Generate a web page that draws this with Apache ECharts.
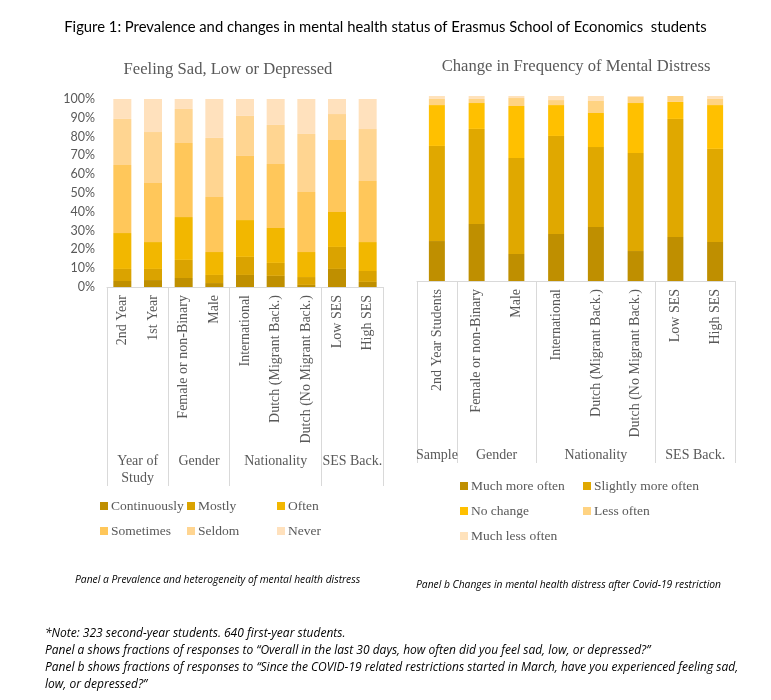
<!DOCTYPE html>
<html>
<head>
<meta charset="utf-8">
<script src="https://cdn.jsdelivr.net/npm/echarts@6/dist/echarts.min.js"></script>
<style>
html,body{margin:0;padding:0;background:#fff;}
#chart{width:771px;height:700px;}
</style>
</head>
<body>
<div id="chart"></div>
<script>
// ---------- Panel a data ----------
const catsA = ['2nd Year','1st Year','Female or non-Binary','Male','International','Dutch (Migrant Back.)','Dutch (No Migrant Back.)','Low SES','High SES'];
const groupNamesA = ['Year of\nStudy','Gender','Nationality','SES Back.'];
const groupSizesA = [2,2,3,2];
const continuously = [3.2,3.7,4.8,2.1,6.4,5.9,1.1,9.6,2.7];
const mostly       = [6.4,5.9,9.6,4.3,9.6,6.9,4.2,11.7,5.8];
const often        = [19.1,14.3,22.8,12.2,19.6,18.6,13.3,18.6,15.4];
const sometimes    = [36.2,31.4,39.4,29.3,34.1,34.0,31.9,38.3,32.5];
const seldom       = [24.5,27.1,18.1,31.4,21.3,20.8,30.9,13.8,27.6];
const never        = [10.6,17.6,5.3,20.7,9.0,13.8,18.6,8.0,16.0];
const yTicksA = [0,10,20,30,40,50,60,70,80,90,100];

// ---------- Panel b data ----------
const catsB = ['2nd Year Students','Female or non-Binary','Male','International','Dutch (Migrant Back.)','Dutch (No Migrant Back.)','Low SES','High SES'];
const groupNamesB = ['Sample','Gender','Nationality','SES Back.'];
const groupSizesB = [1,2,3,2];
const muchMore  = [21.6,30.8,14.6,25.4,29.2,16.2,23.8,21.1];
const slightly  = [51.4,51.4,51.9,53.0,43.2,53.0,63.8,50.3];
const noChange  = [22.1,14.0,28.1,16.7,18.4,27.0,9.2,23.7];
const lessOften = [3.3,2.2,4.3,2.7,6.5,3.3,3.2,3.3];
const muchLess  = [1.6,1.6,1.1,2.2,2.7,0.5,0.0,1.6];

// ---------- text ----------
const mainTitle = 'Figure 1: Prevalence and changes in mental health status of Erasmus School of Economics  students';
const titleA = 'Feeling Sad, Low or Depressed';
const titleB = 'Change in Frequency of Mental Distress';
const captionA = 'Panel a Prevalence and heterogeneity of mental health distress';
const captionB = 'Panel b Changes in mental health distress after Covid-19 restriction';
const noteLines = [
  '*Note: 323 second-year students. 640 first-year students.',
  'Panel a shows fractions of responses to \u201COverall in the last 30 days, how often did you feel sad, low, or depressed?\u201D',
  'Panel b shows fractions of responses to \u201CSince the COVID-19 related restrictions started in March, have you experienced feeling sad,',
  'low, or depressed?\u201D'
];

const colorsA = ['#BF8F00','#DAA300','#F2B700','#FFC75A','#FFD591','#FFE1BD'];
const colorsB = ['#BF8F00','#E0A800','#FFC000','#FFD382','#FFE2BB'];

function groupInfo(sizes){
  const bounds=[0], centers=[];
  let acc=0;
  sizes.forEach(s=>{ centers.push(acc+s/2); acc+=s; bounds.push(acc); });
  return {bounds, centers};
}
const gA = groupInfo(groupSizesA);
const gB = groupInfo(groupSizesB);

const serif = 'Liberation Serif';
const sans = 'Lato';
const italicSans = 'Open Sans';
const gray = '#595959';
const lineGray = '#d9d9d9';

function catAxis(gridIndex, data){
  return {
    type:'category', gridIndex, data, position:'bottom',
    axisLine:{show:true,lineStyle:{color:lineGray,width:1}},
    axisTick:{show:false},
    axisLabel:{rotate:90, margin:8, interval:0, fontFamily:serif, fontSize:14, color:gray}
  };
}
function groupAxis(gridIndex, n, g, names, tickLen, margin){
  return {
    type:'value', gridIndex, min:0, max:n, position:'bottom',
    axisLine:{show:false}, splitLine:{show:false},
    axisTick:{show:true, customValues:g.bounds, length:tickLen, lineStyle:{color:lineGray,width:1}},
    axisLabel:{show:true, customValues:g.centers, margin, fontFamily:serif, fontSize:14, color:gray, lineHeight:17, verticalAlign:'top',
      formatter:(v)=>{ const i=g.centers.findIndex(c=>Math.abs(c-v)<1e-6); return i>=0?names[i]:''; }}
  };
}

const seriesNamesA = ['Continuously','Mostly','Often','Sometimes','Seldom','Never'];
const seriesDataA = [continuously,mostly,often,sometimes,seldom,never];
const seriesNamesB = ['Much more often','Slightly more often','No change','Less often','Much less often'];
const seriesDataB = [muchMore,slightly,noChange,lessOften,muchLess];

const series = [];
seriesNamesA.forEach((n,i)=>series.push({
  name:n, type:'bar', stack:'a', xAxisIndex:0, yAxisIndex:0, barWidth:18,
  itemStyle:{color:colorsA[i]}, data:seriesDataA[i], animation:false
}));
seriesNamesB.forEach((n,i)=>series.push({
  name:n, type:'bar', stack:'b', xAxisIndex:2, yAxisIndex:1, barWidth:16,
  itemStyle:{color:colorsB[i]}, data:seriesDataB[i], animation:false
}));

// legend layout: each item is its own legend so the columns line up as in the reference
const legendColsA = [100, 187, 277], legendRowsA = [499, 524];
const legendColsB = [460, 583], legendRowsB = [479, 504, 529];
function legendItem(name, left, top){
  return {
    data:[name], left, top, orient:'horizontal', icon:'rect', itemWidth:8, itemHeight:8,
    selectedMode:false, padding:0,
    textStyle:{fontFamily:serif, fontSize:13.5, color:gray, padding:[0,0,0,-2]}
  };
}
const legends = [];
seriesNamesA.forEach((n,i)=>legends.push(legendItem(n, legendColsA[i%3], legendRowsA[Math.floor(i/3)])));
seriesNamesB.forEach((n,i)=>legends.push(legendItem(n, legendColsB[i%2], legendRowsB[Math.floor(i/2)])));

const option = {
  backgroundColor:'#fff',
  animation:false,
  title:[
    {text:mainTitle, left:'center', top:20, padding:0, textStyle:{fontFamily:sans, fontSize:14.8, fontWeight:'normal', color:'#000'}},
    {text:titleA, left:228, textAlign:'center', top:61, padding:0, textStyle:{fontFamily:serif, fontSize:16.6, fontWeight:'normal', color:gray}},
    {text:titleB, left:576, textAlign:'center', top:58, padding:0, textStyle:{fontFamily:serif, fontSize:16.6, fontWeight:'normal', color:gray}},
    {text:captionA, left:75, top:575, padding:0, textStyle:{fontFamily:italicSans, fontStyle:'italic', fontSize:10.3, fontWeight:'normal', color:'#000'}},
    {text:captionB, left:416, top:580, padding:0, textStyle:{fontFamily:italicSans, fontStyle:'italic', fontSize:10.3, fontWeight:'normal', color:'#000'}},
    {text:noteLines.join('\n'), left:45, top:625, padding:0, textStyle:{fontFamily:italicSans, fontStyle:'italic', fontSize:12, lineHeight:17, fontWeight:'normal', color:'#000'}}
  ],
  legend:legends,
  grid:[
    {left:107, top:99, width:276, height:188},
    {left:417, top:96, width:318, height:185}
  ],
  xAxis:[
    catAxis(0, catsA),
    groupAxis(0, catsA.length, gA, groupNamesA, 199, 166),
    catAxis(1, catsB),
    groupAxis(1, catsB.length, gB, groupNamesB, 182, 166)
  ],
  yAxis:[
    {type:'value', gridIndex:0, min:yTicksA[0], max:yTicksA[yTicksA.length-1], interval:yTicksA[1]-yTicksA[0],
     axisLine:{show:false}, axisTick:{show:false}, splitLine:{show:false},
     axisLabel:{formatter:'{value}%', fontFamily:sans, fontSize:12.5, color:gray, margin:12}},
    {type:'value', gridIndex:1, min:0, max:100, show:false, splitLine:{show:false}}
  ],
  series
};

const chart = echarts.init(document.getElementById('chart'), null, {renderer:'canvas'});
chart.setOption(option);
</script>
</body>
</html>
